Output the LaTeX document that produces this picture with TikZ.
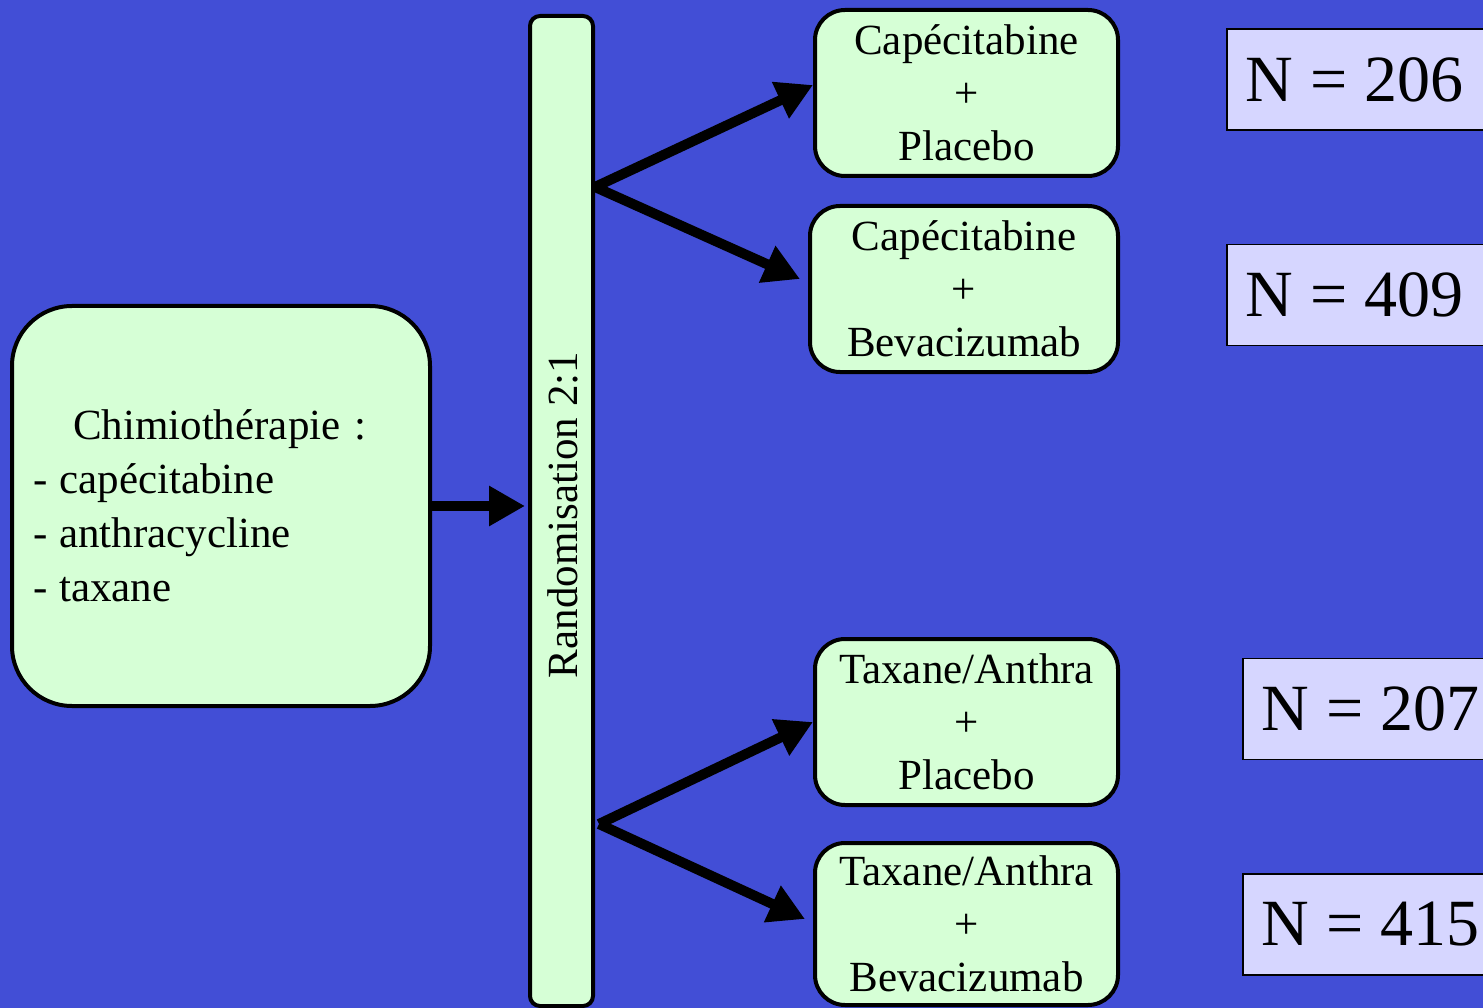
\documentclass[tikz,border=0pt]{standalone}
\usepackage{fontspec}
\setmainfont{Liberation Serif}
\usetikzlibrary{arrows.meta, positioning}
\definecolor{SlideBlue}{RGB}{66,78,214}
\definecolor{ArmGreen}{RGB}{214,255,214}
\definecolor{CountLav}{RGB}{214,214,255}
\newcommand{\ncount}[1]{N\hspace{17pt}=\hspace{17pt}#1}

\begin{document}
\begin{tikzpicture}[x=1pt, y=-1pt,
		arm/.style={draw=black, line width=4pt, rounded corners=30pt, fill=ArmGreen, minimum width=303pt, minimum height=166pt, align=center, inner sep=0pt, font=\fontsize{43}{53}\selectfont},
		count/.style={draw=black, line width=1.5pt, fill=CountLav, anchor=west, minimum height=101pt, text width=262pt, inner xsep=19pt, align=left, font=\fontsize{66}{70}\selectfont},
		arr/.style={-{Triangle[length=36pt, width=38pt]}, line width=10pt, black}]
	\fill[SlideBlue] (0,0) rectangle (1483,1008);
	\useasboundingbox (0,0) rectangle (1483,1008);

	\node[draw, line width=4pt, rounded corners=60pt, fill=ArmGreen, minimum width=418pt, minimum height=400pt, text width=376pt, inner xsep=21pt, align=left, font=\fontsize{43}{54}\selectfont] (chimio) at (221,506) {\hspace*{40pt}Chimioth\'erapie :\\-\hspace{12pt}cap\'ecitabine\\-\hspace{12pt}anthracycline\\-\hspace{12pt}taxane};
	\node[draw, line width=4pt, rounded corners=10pt, fill=ArmGreen, minimum width=63pt, minimum height=990pt, inner sep=0pt] (rando) at (561.5,511) {};
	\node[rotate=90, font=\fontsize{43}{52}\selectfont] (randolabel) at (563,515) {Randomisation 2:1};

	\node[arm] (capplac) at (966.5,93) {Cap\'ecitabine\\+\\Placebo};
	\node[arm, minimum width=308pt] (capbev) at (964,289) {Cap\'ecitabine\\+\\Bevacizumab};
	\node[arm] (taxplac) at (966.5,722) {Taxane/Anthra\\+\\Placebo};
	\node[arm, minimum height=162pt] (taxbev) at (966.5,924) {Taxane/Anthra\\+\\Bevacizumab};

	\node[count] (nA) at (1226,79.5) {\ncount{206}};
	\node[count] (nB) at (1226,295) {\ncount{409}};
	\node[count] (nC) at (1242,709) {\ncount{207}};
	\node[count] (nD) at (1242,924.5) {\ncount{415}};

	\coordinate (splitcap) at (595,187);
	\coordinate (splittax) at (599,824);
	\draw[arr, shorten >=3pt] (chimio.east) -- (chimio.east -| rando.west);
	\draw[arr] (splitcap) -- ([yshift=8pt]capplac.west);
	\draw[arr] (splitcap) -- ([xshift=-8pt,yshift=10pt]capbev.west);
	\draw[arr] (splittax) -- (taxplac.west);
	\draw[arr] (splittax) -- ([xshift=-8pt,yshift=5pt]taxbev.west);
\end{tikzpicture}
\end{document}
